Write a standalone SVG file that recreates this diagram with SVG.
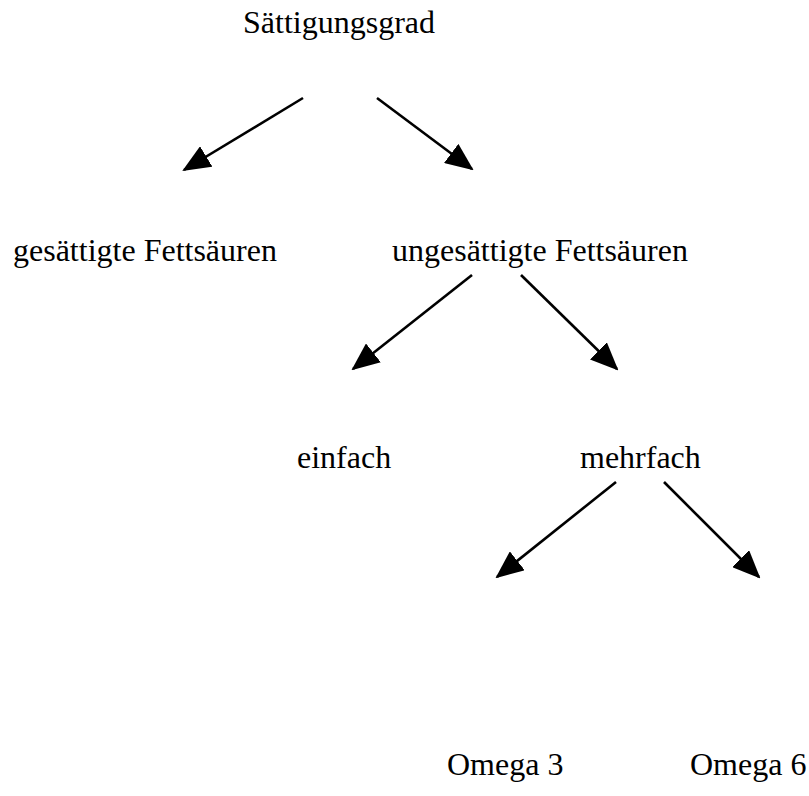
<svg xmlns="http://www.w3.org/2000/svg" width="809" height="796" viewBox="0 0 809 796">
<style>
text{font-family:"Liberation Serif","Times New Roman",serif;font-size:32px;fill:#000}
.c line{stroke:#000;stroke-width:2.6;marker-end:url(#ah)}
</style>
<defs>
<marker id="ah" markerUnits="userSpaceOnUse" markerWidth="28" markerHeight="24" viewBox="0 0 28 24" refX="26" refY="12" orient="auto">
<path d="M0,0 L28,12 L0,24 z" fill="#000"/>
</marker>
</defs>
<rect width="809" height="796" fill="#fff"/>
<g id="n-saettigungsgrad"><text x="243" y="33">Sättigungsgrad</text></g>
<g id="n-gesaettigte"><text x="13" y="261">gesättigte Fettsäuren</text></g>
<g id="n-ungesaettigte"><text x="392" y="261">ungesättigte Fettsäuren</text></g>
<g id="n-einfach"><text x="297" y="468">einfach</text></g>
<g id="n-mehrfach"><text x="580" y="468">mehrfach</text></g>
<g id="n-omega3"><text x="447" y="775">Omega 3</text></g>
<g id="n-omega6"><text x="690" y="775">Omega 6</text></g>
<g class="c" id="connectors">
<line x1="303" y1="98" x2="184" y2="170"/>
<line x1="377" y1="98" x2="472" y2="169"/>
<line x1="472" y1="275" x2="353" y2="369"/>
<line x1="521" y1="275" x2="617" y2="369"/>
<line x1="616" y1="482" x2="497" y2="577"/>
<line x1="664" y1="482" x2="759" y2="577"/>
</g>
</svg>
